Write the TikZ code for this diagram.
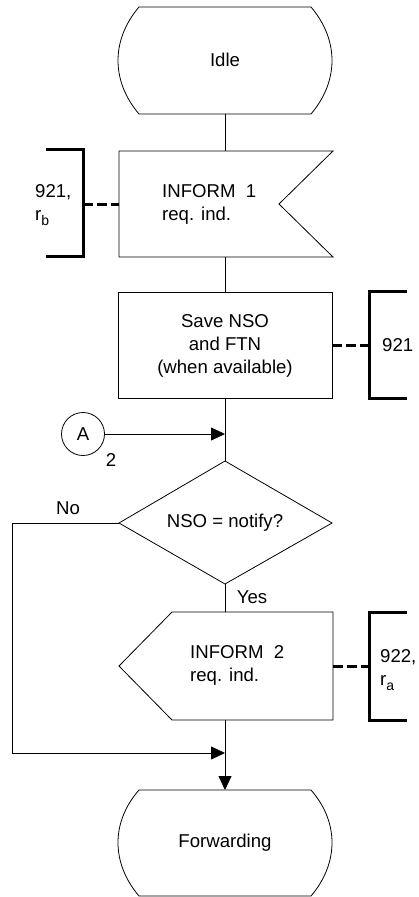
\documentclass[tikz,border=0pt]{standalone}
\usepackage{fontspec}
\setmainfont{Liberation Sans}
\usetikzlibrary{arrows.meta}
\newcommand\mysubs[1]{\raisebox{-0.45ex}{\fontsize{14}{14}\selectfont #1}}
\begin{document}
\begin{tikzpicture}[x=1pt,y=-1pt,
  shp/.style={draw,line width=0.8pt},
  flow/.style={line width=0.8pt},
  arr/.style={flow,-{Triangle[length=14pt,width=13pt]}},
  brk/.style={line width=3pt},
  cdash/.style={line width=3pt,dash pattern=on 10pt off 4pt},
  txt/.style={font=\fontsize{18.6}{23}\selectfont, inner sep=0pt, align=center},
  ]
\useasboundingbox (0,0) rectangle (419,897);

% shapes
\draw[shp] (139,7) -- (311,7) .. controls (339,40) and (339,81) .. (311,114)
  -- (139,114) .. controls (111,81) and (111,40) .. (139,7) -- cycle;
\draw[shp] (119,151) -- (333,151) -- (279,204) -- (333,257) -- (119,257) -- cycle;
\draw[shp] (118,292) rectangle (332,398);
\draw[shp] (225,461) -- (332,523) -- (225,584) -- (119,523) -- cycle;
\draw[shp] (172,612) -- (333,612) -- (333,720) -- (172,720) -- (119,666) -- cycle;
\draw[shp] (139,790) -- (311,790) .. controls (339,822) and (339,863) .. (311,896)
  -- (139,896) .. controls (111,863) and (111,822) .. (139,790) -- cycle;

% anchor coordinates
\coordinate (idleB) at (225,114);
\coordinate (in1T) at (225,151);
\coordinate (in1B) at (225,257);
\coordinate (in1L) at (119,204);
\coordinate (saveT) at (225,292);
\coordinate (saveB) at (225,398);
\coordinate (saveR) at (332,345);
\coordinate (decT) at (225,461);
\coordinate (decL) at (119,523);
\coordinate (decB) at (225,584);
\coordinate (outT) at (225,612);
\coordinate (outB) at (225,720);
\coordinate (outR) at (333,666);
\coordinate (fwdT) at (225,790);
\coordinate (join1) at (225,434);
\coordinate (join2) at (225,753);
\coordinate (noC1) at (12,523);
\coordinate (noC2) at (12,753);
\coordinate (br1) at (83,204);
\coordinate (br2) at (369,345);
\coordinate (br3) at (369,666);

% texts
\node[txt] (idle) at (225,60) {Idle};
\node[txt,align=left,anchor=west] (in1) at (162,204) {INFORM\ \ 1\\req. ind.};
\node[txt] (save) at (225,346) {Save NSO\\and FTN\\(when available)};
\node[txt] (dec) at (225,523) {NSO = notify?};
\node[txt,align=left,anchor=west] (out2) at (190,665) {INFORM\ \ 2\\req. ind.};
\node[txt] (fwd) at (225,843) {Forwarding};
\node[txt,draw,circle,minimum size=43pt,line width=0.8pt] (A) at (83,434) {A};
\node[txt] (A2) at (111,460) {2};
\node[txt] (no) at (68,508) {No};
\node[txt] (yes) at (252,597) {Yes};
\node[txt,align=left,anchor=west] (c1) at (35,205) {921,\\r\mysubs{b}};
\node[txt,anchor=west] (c2) at (382,345) {921};
\node[txt,align=left,anchor=west] (c3) at (380,670) {922,\\r\mysubs{a}};

% comment brackets
\draw[brk] (46,149) -- (83,149) -- (83,256) -- (46,256);
\draw[brk] (407,291) -- (369,291) -- (369,398) -- (407,398);
\draw[brk] (407,612) -- (369,612) -- (369,720) -- (407,720);
\draw[cdash] (br1) -- (in1L);
\draw[cdash] (saveR) -- (br2);
\draw[cdash] (outR) -- (br3);

% flow lines
\draw[flow] (idleB) -- (in1T);
\draw[flow] (in1B) -- (saveT);
\draw[flow] (saveB) -- (decT);
\draw[arr] (A) -- (join1);
\draw[flow] (decB) -- (outT);
\draw[arr] (decL) -- (noC1) -- (noC2) -- (join2);
\draw[arr] (outB) -- (fwdT);
\end{tikzpicture}
\end{document}
